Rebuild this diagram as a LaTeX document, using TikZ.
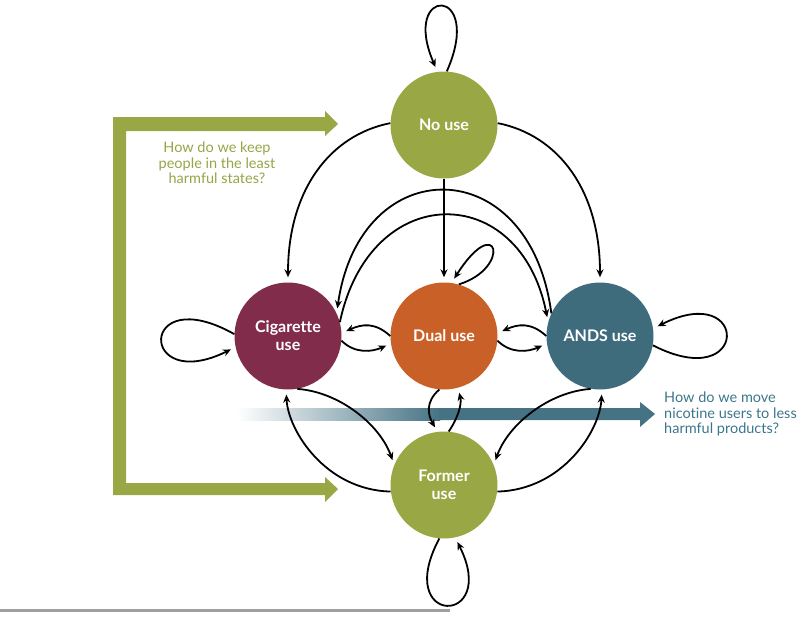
\documentclass[tikz,border=0pt]{standalone}
\usepackage{fontspec}
\setmainfont{Lato}[Ligatures=NoCommon]
\usetikzlibrary{arrows.meta}
\definecolor{olive}{RGB}{154,167,69}
\definecolor{maroon}{RGB}{128,44,74}
\definecolor{dualor}{RGB}{200,96,40}
\definecolor{andsteal}{RGB}{62,108,125}
\definecolor{barblue}{RGB}{70,115,132}
\definecolor{btext}{RGB}{60,118,140}
\definecolor{gtext}{RGB}{150,165,70}
\begin{document}
\begin{tikzpicture}[x=1pt,y=-1pt,
  state/.style={circle, minimum size=107pt, inner sep=0pt, text=white,
    font=\bfseries\fontsize{16}{18}\selectfont, align=center},
  edge/.style={line width=1.8pt, -{Stealth[length=8pt,width=7pt]}, shorten >=5pt},
  qtext/.style={font=\fontsize{14.5}{15.5}\selectfont, inner sep=0pt}
]
\useasboundingbox (0,0) rectangle (800,616);
% background bars
\fill[olive] (338,124) -- (325,111) -- (325,117) -- (113,117) -- (113,495) -- (325,495)
  -- (325,502) -- (338,489) -- (325,477) -- (325,483) -- (126,483) -- (126,131)
  -- (325,131) -- (325,136) -- cycle;
\shade[left color=white, right color=barblue] (237,408) rectangle (440,420);
\fill[barblue] (439,408) -- (640,408) -- (640,402) -- (655,414) -- (640,427) -- (640,420) -- (439,420) -- cycle;
\draw[line width=3pt, gray!75] (0,610) -- (450,610);
% nodes
\node[state, fill=olive] (noUse) at (444,125) {No use};
\node[state, fill=maroon] (cig) at (288,336) {Cigarette\\use};
\node[state, fill=dualor] (dual) at (444,336) {Dual use};
\node[state, fill=andsteal] (ands) at (600,336) {ANDS use};
\node[state, fill=olive] (former) at (444,485) {Former\\use};
% texts
\node[qtext, text=gtext, align=center] (keep) at (217,163) {How do we keep\\people in the least\\harmful states?};
\node[qtext, text=btext, align=left, anchor=west] (move) at (664,414) {How do we move\\nicotine users to less\\harmful products?};
% edges
\draw[edge] (noUse.87) .. controls (485,-15) and (400,-15) .. (noUse.97);
\draw[edge] (noUse.178) .. controls (330,135) and (288,190) .. (cig.90);
\draw[edge] (noUse.2) .. controls (558,135) and (600,190) .. (ands.90);
\draw[edge] (noUse.270) -- (dual.90);
\draw[edge] (ands.155) .. controls (530,150) and (360,150) .. (cig.25);
\draw[edge] (cig.15) .. controls (370,180) and (520,180) .. (ands.165);
\draw[edge] (dual.74) .. controls (512,268) and (498,210) .. (dual.82);
\draw[edge] (dual.180) .. controls (375,322) and (362,324) .. (cig.3);
\draw[edge] (cig.-5) .. controls (355,354) and (372,352) .. (dual.188);
\draw[edge] (ands.180) .. controls (531,322) and (518,324) .. (dual.3);
\draw[edge] (dual.-5) .. controls (511,354) and (528,352) .. (ands.188);
\draw[edge] (ands.-10) .. controls (750,395) and (750,280) .. (ands.8);
\draw[edge] (cig.178) .. controls (138,280) and (138,395) .. (cig.192);
\draw[edge] (former.187) .. controls (325,490) and (288,430) .. (cig.268);
\draw[edge] (cig.-80) .. controls (340,392) and (380,425) .. (former.158);
\draw[edge] (former.-7) .. controls (563,490) and (600,430) .. (ands.272);
\draw[edge] (ands.260) .. controls (548,392) and (508,425) .. (former.22);
\draw[edge] (dual.265) .. controls (425,402) and (428,415) .. (former.97);
\draw[edge] (former.85) .. controls (458,418) and (462,404) .. (dual.285);
\draw[edge] (former.265) .. controls (392,627) and (500,627) .. (former.282);
\end{tikzpicture}
\end{document}
